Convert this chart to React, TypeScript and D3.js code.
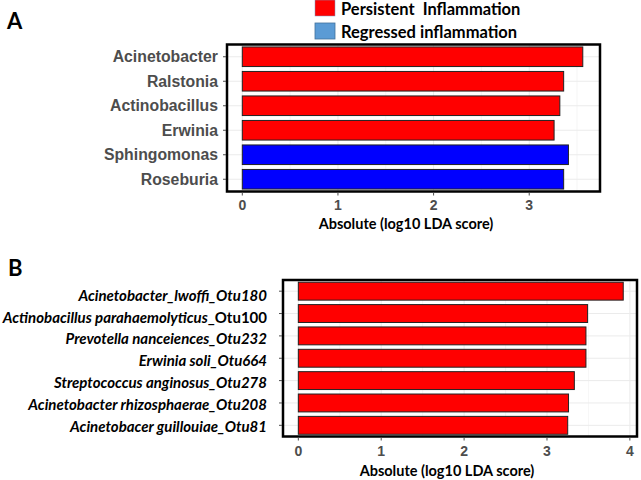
import React from "react";
import * as d3 from "d3";

const genusA = ["Acinetobacter", "Ralstonia", "Actinobacillus", "Erwinia", "Sphingomonas", "Roseburia"];
const ldaA = [3.56, 3.36, 3.32, 3.26, 3.41, 3.36];
const groupA = ["P", "P", "P", "P", "R", "R"];

const otuB = [
  ["Acinetobacter_lwoffi_Otu180", ""],
  ["Actinobacillus parahaemolyticus", "_Otu100"],
  ["Prevotella nanceiences_Otu232", ""],
  ["Erwinia soli_Otu664", ""],
  ["Streptococcus anginosus_Otu278", ""],
  ["Acinetobacter rhizosphaerae_Otu208", ""],
  ["Acinetobacer guillouiae_Otu81", ""],
];
const ldaB = [3.92, 3.49, 3.47, 3.47, 3.33, 3.26, 3.25];

const ticksA = [0, 1, 2, 3];
const ticksB = [0, 1, 2, 3, 4];
const legendLabels = ["Persistent  Inflammation", "Regressed inflammation"];
const axisTitle = "Absolute (log10 LDA score)";

const RED = "#FF0000";
const BLUE = "#0000FF";
const LEG_BLUE = "#5B9BD5";
const GRID = "#EBEBEB";
const AXGRAY = "#4D4D4D";
const CAL = "Lato, 'Open Sans', sans-serif";
const HEL = "'Liberation Sans', Arial, sans-serif";

function Panel({ box, xDomain, labels, values, colors, ticks, tickY, titleX, titleY, labelRight, italic, labelDy, labelSize }: any) {
  const x = d3.scaleLinear().domain(xDomain).range([box.l, box.r]);
  const y = d3.scalePoint<number>().domain(d3.range(values.length)).range([box.t, box.b]).padding(0.5);
  const step = y.step();
  const bh = step * 0.8;
  const minor = d3.range(0.5, xDomain[1], 1);
  return (
    <g>
      <rect x={box.l} y={box.t} width={box.r - box.l} height={box.b - box.t} fill="#fff" />
      {minor.map((m: number) => (
        <line key={"m" + m} x1={x(m)} x2={x(m)} y1={box.t} y2={box.b} stroke="#F4F4F4" strokeWidth={0.8} />
      ))}
      {ticks.map((t: number) => (
        <line key={"g" + t} x1={x(t)} x2={x(t)} y1={box.t} y2={box.b} stroke={GRID} strokeWidth={1} />
      ))}
      {values.map((_: number, i: number) => (
        <line key={"h" + i} x1={box.l} x2={box.r} y1={y(i)!} y2={y(i)!} stroke={GRID} strokeWidth={1} />
      ))}
      {values.map((v: number, i: number) => (
        <rect key={"b" + i} x={x(0)} y={y(i)! - bh / 2} width={x(v) - x(0)} height={bh} fill={colors[i]} stroke="#222" strokeWidth={1} />
      ))}
      <rect x={box.l} y={box.t} width={box.r - box.l} height={box.b - box.t} fill="none" stroke="#000" strokeWidth={2.5} />
      {values.map((_: number, i: number) => (
        <line key={"yt" + i} x1={box.l - 4} x2={box.l - 1} y1={y(i)!} y2={y(i)!} stroke={AXGRAY} strokeWidth={1} />
      ))}
      {ticks.map((t: number) => (
        <g key={"xt" + t}>
          <line x1={x(t)} x2={x(t)} y1={box.b + 1} y2={box.b + 4} stroke={AXGRAY} strokeWidth={1} />
          <text x={x(t)} y={tickY} textAnchor="middle" dominantBaseline="central" fontFamily={HEL} fontWeight="bold" fontSize={14} fill={AXGRAY}>{t}</text>
        </g>
      ))}
      {labels.map((lab: any, i: number) =>
        italic ? (
          <text key={"l" + i} x={labelRight} y={y(i)! + labelDy[i]} textAnchor="end" dominantBaseline="central" fontFamily={CAL} fontWeight="bold" fontSize={labelSize} fill="#000">
            <tspan fontStyle="italic">{lab[0]}</tspan>
            {lab[1] ? <tspan>{lab[1]}</tspan> : null}
          </text>
        ) : (
          <text key={"l" + i} x={labelRight} y={y(i)!} textAnchor="end" dominantBaseline="central" fontFamily={HEL} fontWeight="bold" fontSize={labelSize} fill={AXGRAY}>{lab}</text>
        )
      )}
      <text x={titleX} y={titleY} textAnchor="middle" dominantBaseline="central" fontFamily={CAL} fontWeight="bold" fontSize={14.5} fill="#000">{axisTitle}</text>
    </g>
  );
}

export default function App() {
  const colorsA = groupA.map((g) => (g === "P" ? RED : BLUE));
  const colorsB = ldaB.map(() => RED);
  return (
    <svg width={641} height={480} style={{ position: "absolute", left: 0, top: 0, background: "#fff" }}>
      <rect width={641} height={480} fill="#fff" />
      <text x={7} y={20} dominantBaseline="central" fontFamily={CAL} fontWeight="bold" fontSize={22} fill="#000">A</text>
      <text x={8} y={267} dominantBaseline="central" fontFamily={CAL} fontWeight="bold" fontSize={22} fill="#000">B</text>
      <rect x={315} y={0} width={20} height={16} fill={RED} stroke="#7a9cc0" strokeWidth={0.5} />
      <rect x={315} y={23} width={20} height={16} fill={LEG_BLUE} stroke="#41719C" strokeWidth={0.8} />
      <text x={341} y={9} dominantBaseline="central" fontFamily={CAL} fontWeight="bold" fontSize={16.5} fill="#000" style={{ whiteSpace: "pre" }}>{legendLabels[0]}</text>
      <text x={341} y={32} dominantBaseline="central" fontFamily={CAL} fontWeight="bold" fontSize={16.5} fill="#000">{legendLabels[1]}</text>
      <Panel
        box={{ l: 227, r: 600, t: 44.5, b: 191.5 }}
        xDomain={[-0.16, 3.74]}
        labels={genusA}
        values={ldaA}
        colors={colorsA}
        ticks={ticksA}
        tickY={205}
        titleX={406}
        titleY={223}
        labelRight={218}
        italic={false}
        labelSize={15.8}
      />
      <Panel
        box={{ l: 283, r: 637, t: 280, b: 436.5 }}
        xDomain={[-0.185, 4.086]}
        labels={otuB}
        values={ldaB}
        colors={colorsB}
        ticks={ticksB}
        tickY={451}
        titleX={447}
        titleY={470}
        labelRight={267}
        italic={true}
        labelDy={[4, 3, 2, 2, 1, 1, 1]}
        labelSize={15}
      />
    </svg>
  );
}
